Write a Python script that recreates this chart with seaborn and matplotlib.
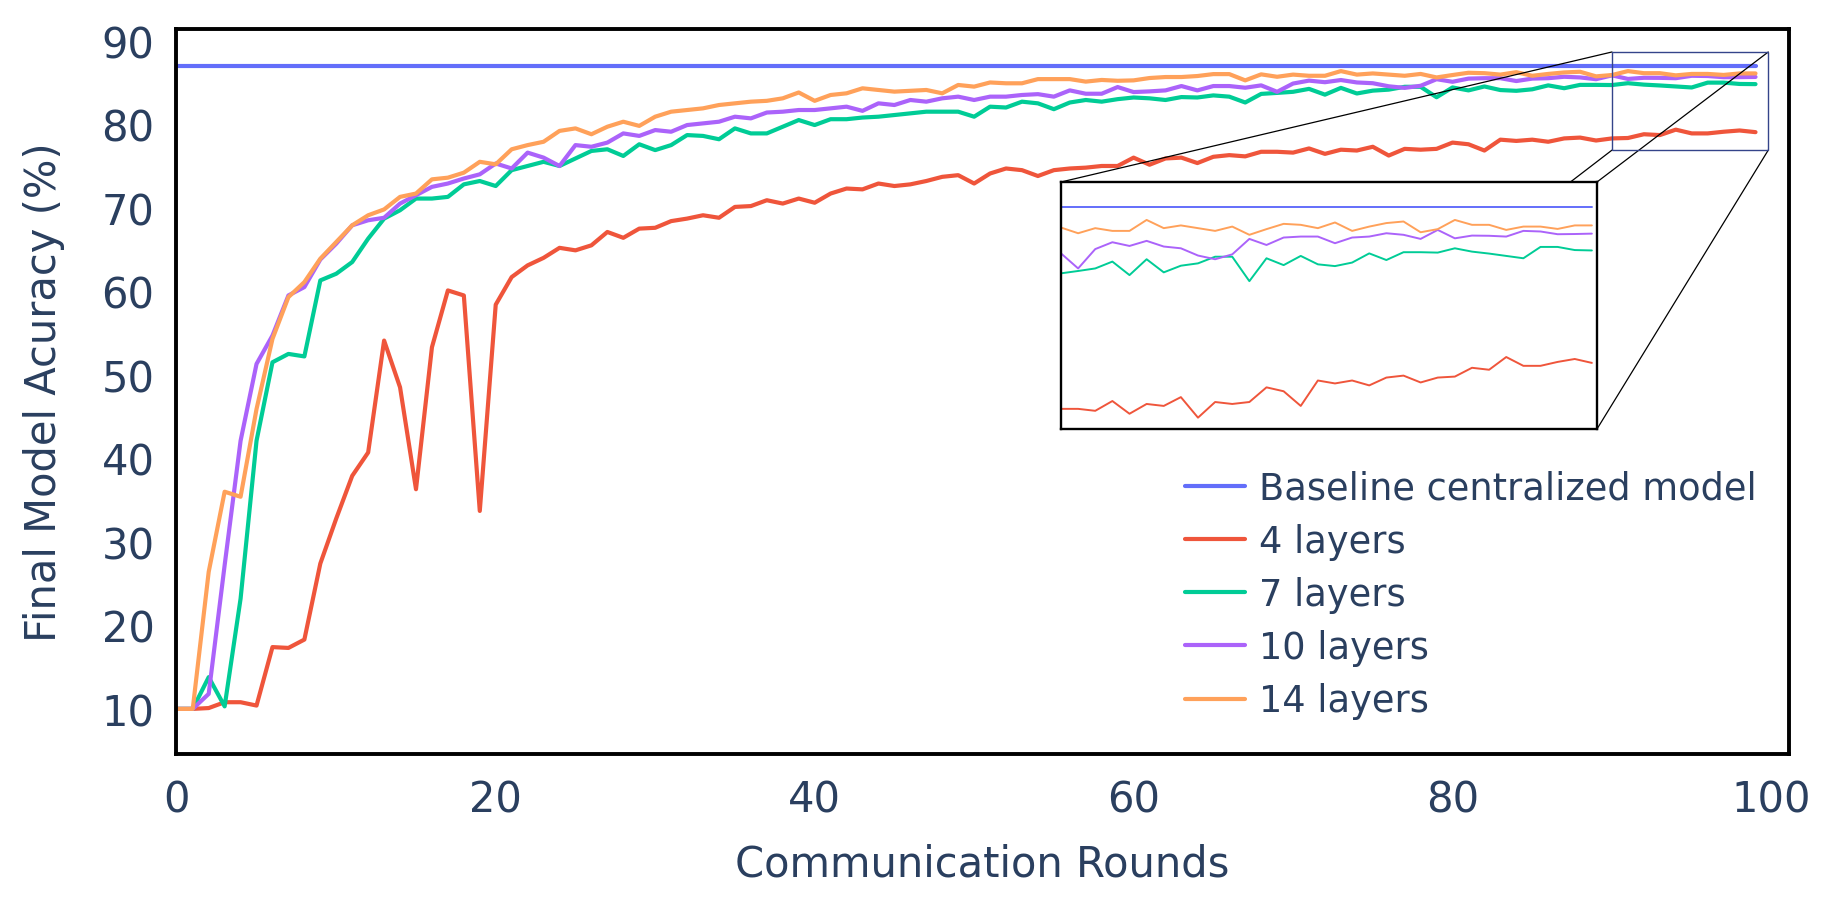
import numpy as np
import pandas as pd
import matplotlib
matplotlib.use('Agg')
import matplotlib.pyplot as plt
from matplotlib.patches import Rectangle, ConnectionPatch
import seaborn as sns

rounds = list(range(100))
baseline = [87.0] * 100

acc_4 = [10.0, 10.0, 10.1, 10.8, 10.8, 10.4, 17.4, 17.3, 18.3, 27.4,
         32.8, 37.9, 40.7, 54.1, 48.5, 36.3, 53.3, 60.1, 59.5, 33.7,
         58.4, 61.7, 63.1, 64.0, 65.2, 64.9, 65.5, 67.1, 66.4, 67.5,
         67.6, 68.4, 68.7, 69.1, 68.8, 70.1, 70.2, 70.9, 70.5, 71.1,
         70.6, 71.7, 72.3, 72.2, 72.9, 72.6, 72.8, 73.2, 73.7, 73.9,
         72.9, 74.1, 74.7, 74.5, 73.8, 74.5, 74.7, 74.8, 75.0, 75.0,
         76.0, 75.15, 75.9, 76.0, 75.35, 76.1, 76.3, 76.15, 76.7, 76.7,
         76.6, 77.1, 76.45, 76.95, 76.85, 77.3, 76.25, 77.05, 76.95, 77.05,
         77.8, 77.6, 76.85, 78.15, 78.0, 78.15, 77.9, 78.3, 78.4, 78.05,
         78.3, 78.35, 78.8, 78.7, 79.35, 78.9, 78.9, 79.1, 79.25, 79.05]

acc_7 = [10.0, 10.0, 13.8, 10.3, 23.2, 42.1, 51.5, 52.5, 52.2, 61.3,
         62.1, 63.5, 66.3, 68.7, 69.7, 71.1, 71.1, 71.3, 72.8, 73.2,
         72.6, 74.5, 75.0, 75.5, 75.0, 75.9, 76.8, 77.0, 76.2, 77.6,
         76.9, 77.5, 78.7, 78.6, 78.2, 79.5, 78.9, 78.9, 79.7, 80.5,
         79.9, 80.6, 80.6, 80.8, 80.9, 81.1, 81.3, 81.5, 81.5, 81.5,
         80.9, 82.1, 82.0, 82.7, 82.5, 81.8, 82.6, 82.9, 82.7, 83.0,
         83.2, 83.1, 82.9, 83.25, 83.2, 83.45, 83.3, 82.6, 83.63, 83.75,
         83.88, 84.23, 83.54, 84.35, 83.68, 84.02, 84.14, 84.48, 84.48, 83.23,
         84.4, 84.05, 84.52, 84.09, 84.0, 84.18, 84.65, 84.31, 84.71, 84.71,
         84.69, 84.91, 84.74, 84.64, 84.52, 84.4, 84.98, 84.98, 84.82, 84.8]

acc_10 = [10.0, 10.0, 11.8, 27.2, 42.1, 51.3, 54.7, 59.5, 60.5, 63.8,
          65.7, 67.9, 68.5, 68.8, 70.5, 71.5, 72.5, 72.9, 73.5, 74.0,
          75.3, 74.7, 76.6, 76.0, 75.0, 77.5, 77.3, 77.8, 78.9, 78.6,
          79.3, 79.1, 79.9, 80.1, 80.3, 80.9, 80.7, 81.4, 81.5, 81.7,
          81.7, 81.9, 82.1, 81.6, 82.5, 82.3, 82.9, 82.7, 83.1, 83.3,
          82.9, 83.3, 83.3, 83.5, 83.6, 83.3, 84.05, 83.65, 83.65, 84.45,
          83.85, 83.93, 84.05, 84.57, 84.05, 84.57, 84.57, 84.37, 84.65, 83.88,
          84.87, 85.22, 85.03, 85.29, 85.0, 84.91, 84.54, 84.35, 84.6, 85.39,
          85.08, 85.46, 85.51, 85.51, 85.17, 85.46, 85.51, 85.68, 85.6, 85.39,
          85.85, 85.42, 85.56, 85.55, 85.51, 85.8, 85.77, 85.63, 85.64, 85.66]

acc_14 = [10.0, 10.0, 26.4, 36.0, 35.4, 45.9, 54.3, 59.3, 61.1, 63.9,
          65.9, 67.9, 69.1, 69.8, 71.3, 71.7, 73.4, 73.6, 74.2, 75.5,
          75.2, 77.0, 77.5, 77.9, 79.2, 79.5, 78.8, 79.7, 80.3, 79.8,
          80.9, 81.5, 81.7, 81.9, 82.3, 82.5, 82.7, 82.8, 83.1, 83.8,
          82.8, 83.5, 83.7, 84.3, 84.1, 83.9, 84.0, 84.1, 83.7, 84.7,
          84.5, 85.0, 84.9, 84.9, 85.4, 85.4, 85.4, 85.1, 85.3, 85.2,
          85.25, 85.53, 85.65, 85.65, 85.77, 86.0, 86.0, 85.25, 85.97, 85.68,
          85.94, 85.8, 85.8, 86.36, 85.94, 86.08, 85.94, 85.8, 86.02, 85.6,
          85.89, 86.16, 86.11, 85.94, 86.23, 85.8, 86.02, 86.2, 86.28, 85.73,
          85.89, 86.36, 86.11, 86.11, 85.85, 86.02, 86.02, 85.9, 86.08, 86.08]

labels = ['Baseline centralized model', '4 layers', '7 layers', '10 layers', '14 layers']
colors = ['#636EFA', '#EF553B', '#00CC96', '#AB63FA', '#FFA15A']
series = [baseline, acc_4, acc_7, acc_10, acc_14]

df = pd.DataFrame({
    'round': rounds * len(labels),
    'acc': sum(series, []),
    'model': sum([[lab] * len(rounds) for lab in labels], []),
})
palette = dict(zip(labels, colors))

sns.set_style('white')
plt.rcParams['font.family'] = ['DejaVu Sans']
text_col = '#2a3f5f'

fig = plt.figure(figsize=(18.28, 9.2), dpi=100)
ax = fig.add_axes([176 / 1828, 1 - 755 / 920, (1789 - 176) / 1828, (755 - 30) / 920])
sns.lineplot(data=df, x='round', y='acc', hue='model', palette=palette,
             hue_order=labels, linewidth=3.0, ax=ax, legend=True)

ax.set_xlim(-0.05, 101.1)
ax.set_ylim(4.6, 91.4)
ax.set_xticks(range(0, 101, 20))
ax.set_yticks(range(10, 91, 10))
ax.tick_params(axis='both', direction='out', length=7.5, width=1.1, color='#444444',
               labelsize=30, labelcolor=text_col, pad=8)
ax.tick_params(axis='x', pad=10)
for sp in ax.spines.values():
    sp.set_color('black')
    sp.set_linewidth(2.8)
ax.set_xlabel('Communication Rounds', fontsize=30, color=text_col, labelpad=16)
ax.set_ylabel('Final Model Acuracy (%)', fontsize=30, color=text_col, labelpad=26)

leg = ax.legend(loc='upper left', bbox_to_anchor=(1170 / 1828, 1 - 456 / 920),
                bbox_transform=fig.transFigure, frameon=False, fontsize=26.5,
                handlelength=1.63, handletextpad=0.38, labelspacing=0.44, borderaxespad=0)
for t in leg.get_texts():
    t.set_color(text_col)

# zoom rectangle on the main plot
ax.add_patch(Rectangle((90, 76.9), 9.8, 11.75, fill=False, edgecolor='#34448a', linewidth=1.0, zorder=5))

# inset
axin = fig.add_axes([1061 / 1828, 1 - 430 / 920, 536 / 1828, 247 / 920], zorder=3)
axin.set_facecolor('white')
sns.lineplot(data=df[df['round'] >= 68], x='round', y='acc', hue='model', palette=palette,
             hue_order=labels, linewidth=1.4, ax=axin, legend=False)
axin.set_xlim(68, 99.3)
axin.set_ylim(75.67, 88.3)
axin.set_xticks([])
axin.set_yticks([])
axin.set_xlabel('')
axin.set_ylabel('')
for sp in axin.spines.values():
    sp.set_color('black')
    sp.set_linewidth(1.7)

# connector lines
for xa, ya, xb, yb in [(90, 88.65, 0, 1), (99.8, 88.65, 1, 1), (99.8, 76.9, 1, 0), (90, 76.9, 0.35, 0)]:
    con = ConnectionPatch(xyA=(xa, ya), coordsA=ax.transData, xyB=(xb, yb), coordsB=axin.transAxes,
                          color='black', linewidth=0.9, zorder=4)
    ax.add_artist(con)

fig.savefig('out.png', dpi=100)
